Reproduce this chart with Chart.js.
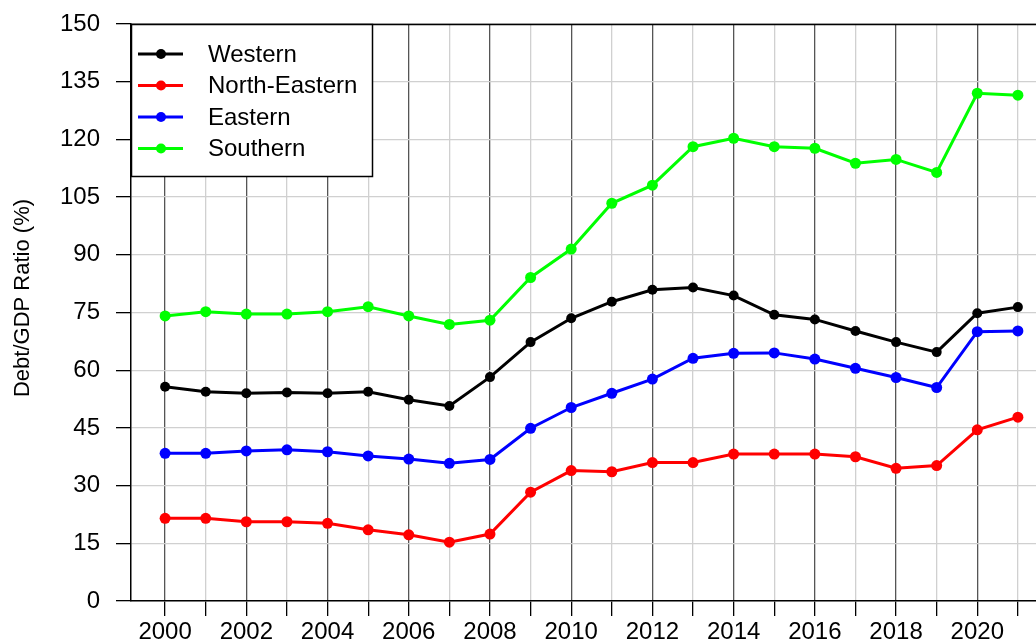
<!DOCTYPE html>
<html>
<head>
<meta charset="utf-8">
<script src="https://cdn.jsdelivr.net/npm/chart.js@4"></script>
<style>
  html, body { margin: 0; padding: 0; background: #fff; overflow: hidden; }
  #wrap { width: 1036px; height: 642px; overflow: hidden; position: relative; }
  canvas { display: block; }
</style>
</head>
<body>
<div id="wrap"><canvas id="c" width="1070" height="642"></canvas></div>
<script>
const years = [2000,2001,2002,2003,2004,2005,2006,2007,2008,2009,2010,2011,2012,2013,2014,2015,2016,2017,2018,2019,2020,2021];
const yTicks = [0,15,30,45,60,75,90,105,120,135,150];
const seriesNames = ["Western","North-Eastern","Eastern","Southern"];
const seriesColors = ["#000000","#ff0000","#0000ff","#00ff00"];
const yTitle = "Debt/GDP Ratio (%)";
const western      = [55.7,54.4,54.0,54.2,54.0,54.4,52.3,50.7,58.2,67.3,73.5,77.8,80.9,81.5,79.4,74.4,73.2,70.2,67.3,64.7,74.8,76.4];
const northEastern = [21.5,21.5,20.6,20.6,20.2,18.5,17.2,15.3,17.4,28.3,33.9,33.6,36.0,36.0,38.2,38.2,38.2,37.5,34.5,35.2,44.5,47.8];
const eastern      = [38.4,38.4,39.0,39.3,38.8,37.7,36.9,35.8,36.8,44.9,50.3,54.0,57.7,63.1,64.4,64.5,62.9,60.5,58.1,55.5,70.0,70.2];
const southern     = [74.1,75.2,74.6,74.6,75.2,76.5,74.1,71.9,73.0,84.1,91.5,103.4,108.1,118.1,120.3,118.1,117.7,113.8,114.8,111.4,132.0,131.5];
const allSeries = [western, northEastern, eastern, southern];

const FONT = '"Liberation Sans", Arial, sans-serif';

const datasets = allSeries.map((vals, i) => ({
  label: seriesNames[i],
  data: vals.map((v, j) => ({ x: years[j], y: v })),
  borderColor: seriesColors[i],
  backgroundColor: seriesColors[i],
  borderWidth: 3,
  pointRadius: i === 0 ? 5 : 5.5,
  pointHoverRadius: 5,
  pointBorderWidth: 0,
  pointStyle: 'circle',
  tension: 0,
  fill: false
}));

const frameAndLegend = {
  id: 'frameAndLegend',
  afterDatasetsDraw(chart) {
    const ctx = chart.ctx;
    const a = chart.chartArea;
    ctx.save();
    // top frame line
    ctx.strokeStyle = '#000';
    ctx.lineWidth = 1.5;
    ctx.beginPath();
    ctx.moveTo(a.left, a.top + 0.5);
    ctx.lineTo(a.right, a.top + 0.5);
    ctx.stroke();
    // legend box
    const bx = a.left, by = a.top, bw = 241, bh = 152;
    ctx.fillStyle = '#fff';
    ctx.fillRect(bx, by, bw, bh);
    ctx.lineWidth = 1.5;
    ctx.strokeRect(bx + 0.5, by + 0.5, bw, bh);
    ctx.font = '24px ' + FONT;
    ctx.textBaseline = 'middle';
    ctx.textAlign = 'left';
    chart.data.datasets.forEach((ds, i) => {
      const cy = by + 30 + i * 31.5;
      ctx.strokeStyle = ds.borderColor;
      ctx.lineWidth = 3;
      ctx.beginPath();
      ctx.moveTo(bx + 7, cy);
      ctx.lineTo(bx + 52, cy);
      ctx.stroke();
      ctx.fillStyle = ds.borderColor;
      ctx.beginPath();
      ctx.arc(bx + 30, cy, 5, 0, Math.PI * 2);
      ctx.fill();
      ctx.fillStyle = '#000';
      ctx.fillText(ds.label, bx + 77, cy + 1);
    });
    // y-axis title
    ctx.translate(23, 298);
    ctx.rotate(-Math.PI / 2);
    ctx.font = '22px ' + FONT;
    ctx.textAlign = 'center';
    ctx.textBaseline = 'middle';
    ctx.fillStyle = '#000';
    ctx.fillText(yTitle, 0, 0);
    ctx.restore();
  }
};

new Chart(document.getElementById('c'), {
  type: 'line',
  data: { datasets },
  options: {
    responsive: false,
    animation: false,
    events: [],
    layout: { padding: { left: 0, top: 24, right: 18, bottom: 0 } },
    plugins: { legend: { display: false }, tooltip: { enabled: false } },
    scales: {
      x: {
        type: 'linear',
        min: 1999.16,
        max: 2021.84,
        afterBuildTicks: (s) => { s.ticks = years.map(v => ({ value: v })); },
        afterFit: (s) => { s.height = 41; s.paddingLeft = 0; s.paddingRight = 0; },
        border: { color: '#000', width: 1.5 },
        grid: {
          color: (c) => (c.tick && c.tick.value % 2 === 0) ? '#555555' : '#d0d0d0',
          lineWidth: 1.3,
          tickColor: '#000',
          tickLength: 15,
          drawTicks: true
        },
        ticks: {
          color: '#000',
          font: { family: FONT, size: 24 },
          padding: 2,
          maxRotation: 0,
          autoSkip: false,
          callback: (v) => (v % 2 === 0 ? String(v) : '')
        }
      },
      y: {
        min: 0,
        max: 150,
        afterBuildTicks: (s) => { s.ticks = yTicks.map(v => ({ value: v })); },
        afterFit: (s) => { s.width = 131; s.paddingTop = 0; s.paddingBottom = 0; },
        border: { color: '#000', width: 1.5 },
        grid: {
          color: '#d0d0d0',
          lineWidth: 1.3,
          tickColor: '#000',
          tickLength: 15,
          drawTicks: true
        },
        ticks: {
          color: '#000',
          font: { family: FONT, size: 24 },
          padding: 16
        }
      }
    }
  },
  plugins: [frameAndLegend]
});
</script>
</body>
</html>
